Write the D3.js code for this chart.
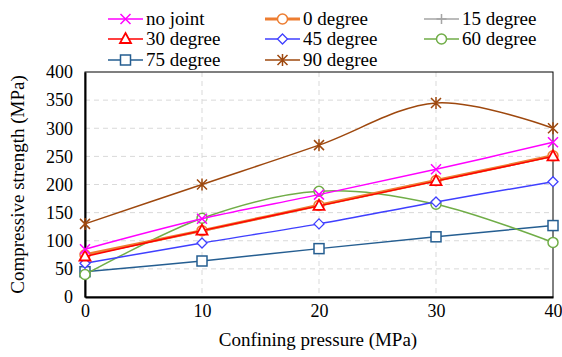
<!doctype html>
<html lang="en">
<head>
<meta charset="UTF-8">
<title>Compressive strength vs confining pressure</title>
<style type="text/css">
body {
  margin: 0;
  padding: 0;
  background: #fff;
}
svg text {
  font-family: "Liberation Serif", "Times New Roman", Times, serif;
}
</style>
<script type="text/javascript" src="https://cdn.jsdelivr.net/npm/d3@7"></script>
</head>
<body>
<div id="chart"></div>
<script type="text/javascript">

var pressures = [0, 10, 20, 30, 40];

var seriesNames = ['no joint', '0 degree', '15 degree', '30 degree', '45 degree', '60 degree', '75 degree', '90 degree'];

var noJoint  = [85, 139, 182, 227, 275];
var deg0     = [75, 118, 163, 207, 251];
var deg15    = [74, 117, 162, 206, 250];
var deg30    = [72, 118, 162, 206, 250];
var deg45    = [60, 96, 130, 169, 205];
var deg60    = [40, 140, 188, 165, 97];
var deg75    = [45, 64, 86, 107, 127];
var deg90    = [130, 200, 270, 345, 300];

var yTicks = [0, 50, 100, 150, 200, 250, 300, 350, 400];
var xTicks = [0, 10, 20, 30, 40];

var seriesValues = [noJoint, deg0, deg15, deg30, deg45, deg60, deg75, deg90];
var seriesColors = ['#FF00FF', '#ED7D31', '#A5A5A5', '#FF0000', '#3F3FFF', '#70AD47', '#255E91', '#9E480E'];
var seriesMarkers = ['x', 'circle', 'plus', 'triangle', 'diamond', 'circle', 'square', 'star'];
var seriesWidths = [1.5, 3, 1.5, 1.5, 1.5, 1.5, 1.5, 1.5];

var W = 562, H = 357;
var plotLeft = 85, plotRight = 553, plotTop = 72, plotBottom = 297;

var svg = d3.select('#chart').append('svg')
  .attr('width', W)
  .attr('height', H);

var x = d3.scaleLinear().domain([0, 40]).range([plotLeft, plotRight]);
var y = d3.scaleLinear().domain([0, 400]).range([plotBottom, plotTop]);

// grid
svg.append('g').selectAll('line.hgrid').data(yTicks.slice(1, -1)).enter()
  .append('line')
  .attr('class', 'hgrid')
  .attr('x1', plotLeft).attr('x2', plotRight)
  .attr('y1', function(d) { return y(d); })
  .attr('y2', function(d) { return y(d); })
  .attr('stroke', '#D9D9D9')
  .attr('stroke-width', 1)
  .attr('stroke-dasharray', '5,4');

svg.append('g').selectAll('line.vgrid').data(xTicks.slice(1, -1)).enter()
  .append('line')
  .attr('class', 'vgrid')
  .attr('y1', plotTop).attr('y2', plotBottom)
  .attr('x1', function(d) { return x(d); })
  .attr('x2', function(d) { return x(d); })
  .attr('stroke', '#D9D9D9')
  .attr('stroke-width', 1)
  .attr('stroke-dasharray', '5,4');

// frame
svg.append('rect')
  .attr('x', plotLeft).attr('y', plotTop)
  .attr('width', plotRight - plotLeft).attr('height', plotBottom - plotTop)
  .attr('fill', 'none')
  .attr('stroke', '#000')
  .attr('stroke-width', 1);

// axes
var yAxis = d3.axisLeft(y).tickValues(yTicks).tickSize(0).tickPadding(12);
var gy = svg.append('g').attr('transform', 'translate(' + plotLeft + ',0)').call(yAxis)
  .attr('font-size', 18);
gy.select('.domain').attr('stroke', '#000').attr('stroke-width', 2);
gy.selectAll('text').attr('fill', '#000');

var xAxis = d3.axisBottom(x).tickValues(xTicks).tickSize(0).tickPadding(7);
var gx = svg.append('g').attr('transform', 'translate(0,' + plotBottom + ')').call(xAxis)
  .attr('font-size', 18);
gx.select('.domain').attr('stroke', '#000').attr('stroke-width', 2);
gx.selectAll('text').attr('fill', '#000');

// axis titles
svg.append('text')
  .attr('x', 318)
  .attr('y', 346)
  .attr('text-anchor', 'middle')
  .style('font-size', '19px')
  .text('Confining pressure (MPa)');

svg.append('text')
  .attr('transform', 'translate(24,' + ((plotTop + plotBottom) / 2) + ') rotate(-90)')
  .attr('text-anchor', 'middle')
  .style('font-size', '19px')
  .text('Compressive strength (MPa)');

function drawMarker(g, type, cx, cy, color) {
  var s = 5;
  if (type == 'x') {
    g.append('path').attr('d', 'M' + (cx - s) + ',' + (cy - s) + 'L' + (cx + s) + ',' + (cy + s) + 'M' + (cx - s) + ',' + (cy + s) + 'L' + (cx + s) + ',' + (cy - s))
      .attr('stroke', color).attr('stroke-width', 1.5).attr('fill', 'none');
  } else if (type == 'plus') {
    g.append('path').attr('d', 'M' + (cx - s) + ',' + cy + 'L' + (cx + s) + ',' + cy + 'M' + cx + ',' + (cy - s) + 'L' + cx + ',' + (cy + s))
      .attr('stroke', color).attr('stroke-width', 1.5).attr('fill', 'none');
  } else if (type == 'star') {
    g.append('path').attr('d', 'M' + (cx - s) + ',' + (cy - s) + 'L' + (cx + s) + ',' + (cy + s) + 'M' + (cx - s) + ',' + (cy + s) + 'L' + (cx + s) + ',' + (cy - s) + 'M' + cx + ',' + (cy - s - 1) + 'L' + cx + ',' + (cy + s + 1))
      .attr('stroke', color).attr('stroke-width', 1.5).attr('fill', 'none');
  } else if (type == 'circle') {
    g.append('circle').attr('cx', cx).attr('cy', cy).attr('r', 5)
      .attr('stroke', color).attr('stroke-width', 1.5).attr('fill', '#fff');
  } else if (type == 'square') {
    g.append('rect').attr('x', cx - 5).attr('y', cy - 5).attr('width', 10).attr('height', 10)
      .attr('stroke', color).attr('stroke-width', 1.5).attr('fill', '#fff');
  } else if (type == 'triangle') {
    g.append('path').attr('d', 'M' + cx + ',' + (cy - 6) + 'L' + (cx + 5.5) + ',' + (cy + 4) + 'L' + (cx - 5.5) + ',' + (cy + 4) + 'Z')
      .attr('stroke', color).attr('stroke-width', 1.8).attr('fill', '#fff');
  } else if (type == 'diamond') {
    g.append('path').attr('d', 'M' + cx + ',' + (cy - 5) + 'L' + (cx + 5) + ',' + cy + 'L' + cx + ',' + (cy + 5) + 'L' + (cx - 5) + ',' + cy + 'Z')
      .attr('stroke', color).attr('stroke-width', 1.3).attr('fill', '#fff');
  }
}

var line = d3.line()
  .x(function(d) { return x(d[0]); })
  .y(function(d) { return y(d[1]); })
  .curve(d3.curveCardinal.tension(0));

var order = [6, 5, 4, 2, 1, 3, 0, 7];
order.forEach(function(i) {
  var pts = pressures.map(function(p, j) { return [p, seriesValues[i][j]]; });
  var g = svg.append('g');
  g.append('path')
    .attr('d', line(pts))
    .attr('fill', 'none')
    .attr('stroke', seriesColors[i])
    .attr('stroke-width', seriesWidths[i]);
  pts.forEach(function(p) {
    drawMarker(g, seriesMarkers[i], x(p[0]), y(p[1]), seriesColors[i]);
  });
});

// legend
var legCols = [108, 265, 424];
var legRows = [19, 39, 60];
seriesNames.forEach(function(name, i) {
  var lx = legCols[i % 3];
  var ly = legRows[Math.floor(i / 3)];
  var g = svg.append('g');
  g.append('line')
    .attr('x1', lx).attr('x2', lx + 35)
    .attr('y1', ly).attr('y2', ly)
    .attr('stroke', seriesColors[i])
    .attr('stroke-width', seriesWidths[i]);
  drawMarker(g, seriesMarkers[i], lx + 17.5, ly, seriesColors[i]);
  g.append('text')
    .attr('x', lx + 38)
    .attr('y', ly + 6)
    .style('font-size', '19px')
    .text(name);
});

</script>
</body>
</html>
